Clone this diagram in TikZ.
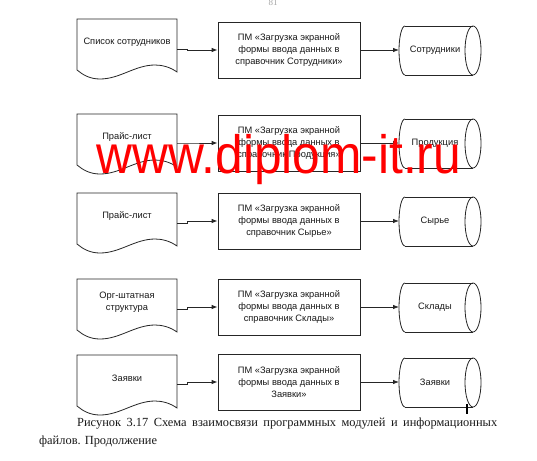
\documentclass[tikz,border=0pt]{standalone}
\usepackage{fontspec}
\setmainfont{Liberation Sans}
\newfontfamily\capfont{Liberation Serif}
\usetikzlibrary{arrows.meta}
\begin{document}
\begin{tikzpicture}[x=1pt,y=-1pt,
  line/.style={draw=black!85, line width=0.8pt},
  txt/.style={font=\fontsize{9.3}{11.8}\selectfont, text=black!90, align=center, inner sep=0pt},
  procbox/.style={line, txt, minimum width=142pt, minimum height=56pt},
  arr/.style={line, -{Latex[length=6pt,width=4.5pt]}},
  capt/.style={font=\capfont\fontsize{12.4}{14}\selectfont, inner sep=0pt, text=black!90},
]
\useasboundingbox (0,0) rectangle (537,460);
\fill[white] (0,0) rectangle (537,460);

\node[font=\capfont\fontsize{9}{10}\selectfont, text=black!35, inner sep=0pt] (pg) at (273,3) {81};

\foreach \i/\T/\bc/\dy/\dt/\bt/\ct in {
  1/19/50/49/{Список сотрудников}/{ПМ «Загрузка экранной\\формы ввода данных в\\справочник Сотрудники»}/{Сотрудники},
  2/114/143/143/{Прайс-лист}/{ПМ «Загрузка экранной\\формы ввода данных в\\справочник Продукция»}/{Продукция},
  3/193/221/223/{Прайс-лист}/{ПМ «Загрузка экранной\\формы ввода данных в\\справочник Сырье»}/{Сырье},
  4/279/307/309/{Орг-штатная\\структура}/{ПМ «Загрузка экранной\\формы ввода данных в\\справочник Склады»}/{Склады},
  5/355/382/384/{Заявки}/{ПМ «Загрузка экранной\\формы ввода данных в\\Заявки»}/{Заявки}}
{
  % document shape
  \draw[line] (77,\T) -- (177,\T) -- (177,\T+53)
    .. controls (170,\T+48) and (162,\T+46) .. (155,\T+46)
    .. controls (135,\T+46) and (120,\T+60) .. (100,\T+60)
    .. controls (90,\T+60) and (83,\T+56) .. (77,\T+51) -- cycle;
  \node[txt] (d\i) at (127,\T+23) {\dt};
  \coordinate (dout\i) at (177,\dy);
  % process box
  \node[procbox] (p\i) at (289,\bc) {\bt};
  % cylinder (stored data)
  \draw[line] (405,\bc-24) -- (473,\bc-24) (405,\bc+25) -- (473,\bc+25);
  \draw[line] (405,\bc-24) arc[start angle=90,end angle=270,x radius=6pt,y radius=24.5pt];
  \draw[line] (473,\bc+0.5) ellipse[x radius=8pt,y radius=24.5pt];
  \node[txt] (c\i) at (435,\bc+0.5) {\ct};
  \coordinate (cin\i) at (399,\bc+0.5);
  % connectors
  \draw[arr] (dout\i) -- ++(10,0) |- (p\i.west);
  \draw[arr] (p\i.east) -- (p\i.east -| cin\i);
}

\draw[line width=1.2pt, black] (467,404) -- (467,414);

\node[capt, anchor=base west] (cap1) at (77,426.5) {\makebox[420pt][s]{Рисунок 3.17 Схема взаимосвязи программных модулей и информационных}};
\node[capt, anchor=base west] (cap2) at (39,444) {файлов. Продолжение};

\node[font=\fontsize{54}{60}\selectfont, text=red, anchor=base, xscale=0.92, inner sep=0pt] (wm) at (279,173) {www.diplom-it.ru};
\end{tikzpicture}
\end{document}
